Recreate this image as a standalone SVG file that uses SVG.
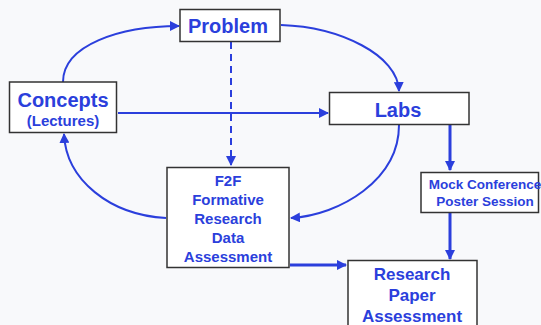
<svg xmlns="http://www.w3.org/2000/svg" width="541" height="325" viewBox="0 0 541 325">
<style>
.box{fill:#fff;stroke:#333;stroke-width:1.5}
.t{font-family:"Liberation Sans",Arial,sans-serif;font-weight:bold;fill:#2b3fdc;text-anchor:middle}
.c{fill:none;stroke:#2b3fdc;stroke-width:2}
.thick{stroke-width:3}
</style>
<defs>
<marker id="ah" viewBox="0 0 10 10" refX="9" refY="5" markerWidth="5" markerHeight="5" orient="auto" markerUnits="strokeWidth">
<path d="M0,0 L10,5 L0,10 z" fill="#2b3fdc"/>
</marker>
<marker id="ah2" viewBox="0 0 10 10" refX="9" refY="5" markerWidth="3.5" markerHeight="3.5" orient="auto" markerUnits="strokeWidth">
<path d="M0,0 L10,5 L0,10 z" fill="#2b3fdc"/>
</marker>
</defs>
<rect width="541" height="325" fill="#f8f9fb"/>
<g id="connectors">
<path class="c" d="M63,82 C63,45 120,26 179,26" marker-end="url(#ah)"/>
<path class="c" d="M281,25 C340,27 398,55 399,91" marker-end="url(#ah)"/>
<path class="c" d="M118,113 L328,113" marker-end="url(#ah)"/>
<path class="c" d="M231,42 L231,165" stroke-dasharray="7,5" marker-end="url(#ah)"/>
<path class="c" d="M399,125 C399,180 340,215 291,218" marker-end="url(#ah)"/>
<path class="c" d="M166,218 C110,215 66,180 64,134" marker-end="url(#ah)"/>
<path class="c thick" d="M450,125 L450,170" marker-end="url(#ah2)"/>
<path class="c thick" d="M450,213 L450,259" marker-end="url(#ah2)"/>
<path class="c thick" d="M290,265 L346,265" marker-end="url(#ah2)"/>
</g>
<g id="problem">
<rect class="box" x="180" y="9.5" width="100" height="32"/>
<text class="t" x="228" y="33" font-size="20">Problem</text>
</g>
<g id="concepts">
<rect class="box" x="9.5" y="82" width="107" height="50.5"/>
<text class="t" x="63" y="107" font-size="20">Concepts</text>
<text class="t" x="63" y="126" font-size="15">(Lectures)</text>
</g>
<g id="labs">
<rect class="box" x="329.5" y="92.5" width="139.5" height="32"/>
<text class="t" x="398" y="117" font-size="20">Labs</text>
</g>
<g id="f2f">
<rect class="box" x="167" y="167.5" width="122" height="100"/>
<text class="t" x="228" y="186" font-size="15">F2F</text>
<text class="t" x="228" y="205" font-size="15">Formative</text>
<text class="t" x="228" y="224" font-size="15">Research</text>
<text class="t" x="228" y="243" font-size="15">Data</text>
<text class="t" x="228" y="262" font-size="15">Assessment</text>
</g>
<g id="mock">
<rect class="box" x="421" y="172.5" width="117.5" height="40"/>
<text class="t" x="485" y="189" font-size="13.5">Mock Conference</text>
<text class="t" x="485" y="206" font-size="13.5">Poster Session</text>
</g>
<g id="research">
<rect class="box" x="348" y="260.5" width="129" height="70"/>
<text class="t" x="412" y="280" font-size="17">Research</text>
<text class="t" x="412" y="301" font-size="17">Paper</text>
<text class="t" x="412" y="322" font-size="17">Assessment</text>
</g>
</svg>
